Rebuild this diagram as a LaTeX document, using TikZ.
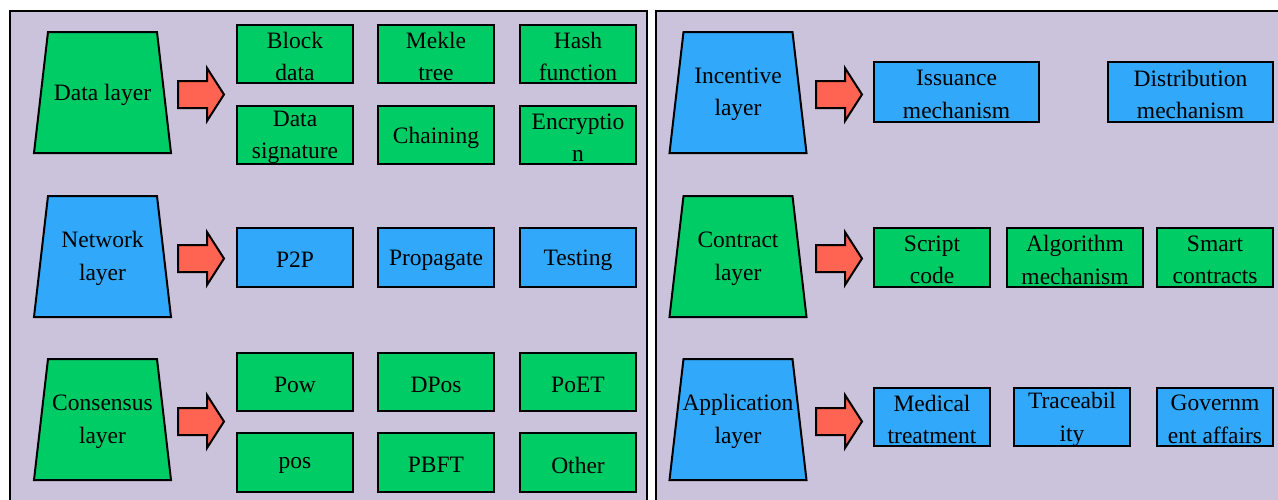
\documentclass[tikz,border=0pt]{standalone}
\usepackage{fontspec}
\setmainfont{Liberation Serif}
\usetikzlibrary{calc}
\definecolor{panelbg}{HTML}{CBC3DB}
\definecolor{layergreen}{HTML}{00CC66}
\definecolor{layerblue}{HTML}{31A8FA}
\definecolor{arrowred}{HTML}{FF6352}
\newcommand\boxfont{\fontsize{23.5}{32.5}\selectfont}
% a framed item: box node #1 with style #2 at (#3), caption #4 (node #1t)
\newcommand\itembox[4]{%
  \node[item, #2] (#1) at (#3) {};
  \node[itemtext] (#1t) at (#1) {#4};
}
\tikzset{
  panel/.style={draw=black, line width=2pt, fill=panelbg},
  item/.style={draw=black, line width=2pt, minimum width=116pt, minimum height=58.5pt,
    inner sep=0pt},
  itemtext/.style={inner sep=0pt, align=center, font=\boxfont, yshift=-2.5pt},
  greenfill/.style={fill=layergreen},
  bluefill/.style={fill=layerblue},
  layertext/.style={inner sep=0pt, align=center, font=\boxfont, yshift=-2pt},
  % trapezoid drawn around a layer title, narrow side on top
  layershape/.pic={
    \draw[line width=2pt, line join=miter, pic actions]
      (-54.5,-60.5) -- (54.5,-60.5) -- (68.5,60.5) -- (-68.5,60.5) -- cycle;
  },
  % thick block arrow, tail at the origin
  blkarrow/.pic={
    \draw[line width=2pt, line join=miter, fill=arrowred]
      (0,-13.5) -- (29,-13.5) -- (29,-26.5) -- (46,0) -- (29,26.5) -- (29,13.5) -- (0,13.5) -- cycle;
  }
}
\begin{document}
\begin{tikzpicture}[x=1pt, y=-1pt]
\useasboundingbox (0,0) rectangle (1278,499);
\fill[white] (0,0) rectangle (1278,499);

% two panels
\draw[panel] (10,11) rectangle (647,520);
\draw[panel] (656,11) rectangle (1300,520);

% ---------- left panel ----------
% Data layer
\pic[fill=layergreen] at (102.5,92.5) {layershape};
\node[layertext] (data) at (102.5,92.5) {Data layer};
\pic at ($(data)+(75.5,0)$) {blkarrow};
\itembox{d1}{greenfill}{295,54}{Block\\data}
\itembox{d2}{greenfill}{436,54}{Mekle\\tree}
\itembox{d3}{greenfill}{578,54}{Hash\\function}
\itembox{d4}{greenfill}{295,135}{Data\\signature}
\itembox{d5}{greenfill}{436,135}{Chaining}
\itembox{d6}{greenfill}{578,135}{Encryptio\\n}

% Network layer
\pic[fill=layerblue] at (102.5,256.5) {layershape};
\node[layertext] (net) at (102.5,256.5) {Network\\layer};
\pic at ($(net)+(75.5,0)$) {blkarrow};
\itembox{n1}{bluefill}{295,257.5}{P2P}
\itembox{n2}{bluefill}{436,257.5}{Propagate}
\itembox{n3}{bluefill}{578,257.5}{Testing}

% Consensus layer
\pic[fill=layergreen] at (102.5,419.5) {layershape};
\node[layertext] (cons) at (102.5,419.5) {Consensus\\layer};
\pic at ($(cons)+(75.5,0)$) {blkarrow};
\itembox{c1}{greenfill}{295,382}{Pow}
\itembox{c2}{greenfill}{436,382}{DPos}
\itembox{c3}{greenfill}{578,382}{PoET}
\itembox{c4}{greenfill}{295,462.5}{pos}
\itembox{c5}{greenfill}{436,462.5}{PBFT}
\itembox{c6}{greenfill}{578,462.5}{Other}

% ---------- right panel ----------
% Incentive layer
\pic[fill=layerblue] at (738,92.5) {layershape};
\node[layertext] (inc) at (738,92.5) {Incentive\\layer};
\pic at ($(inc)+(78,0)$) {blkarrow};
\itembox{i1}{bluefill, minimum width=165pt, minimum height=60pt}{956.5,92}{Issuance\\mechanism}
\itembox{i2}{bluefill, minimum width=165pt, minimum height=60pt}{1190.5,92}{Distribution\\mechanism}

% Contract layer
\pic[fill=layergreen] at (738,256.5) {layershape};
\node[layertext] (con) at (738,256.5) {Contract\\layer};
\pic at ($(con)+(78,0)$) {blkarrow};
\itembox{k1}{greenfill}{932,257.5}{Script\\code}
\itembox{k2}{greenfill, minimum width=136pt}{1075,257.5}{Algorithm\\mechanism}
\itembox{k3}{greenfill}{1215,257.5}{Smart\\contracts}

% Application layer
\pic[fill=layerblue] at (738,419.5) {layershape};
\node[layertext] (app) at (738,419.5) {Application\\layer};
\pic at ($(app)+(78,0)$) {blkarrow};
\itembox{a1}{bluefill}{932,417}{Medical\\treatment}
\itembox{a2}{bluefill}{1072,417}{Traceabil\\ity}
\itembox{a3}{bluefill}{1215,417}{Governm\\ent affairs}
\end{tikzpicture}
\end{document}
